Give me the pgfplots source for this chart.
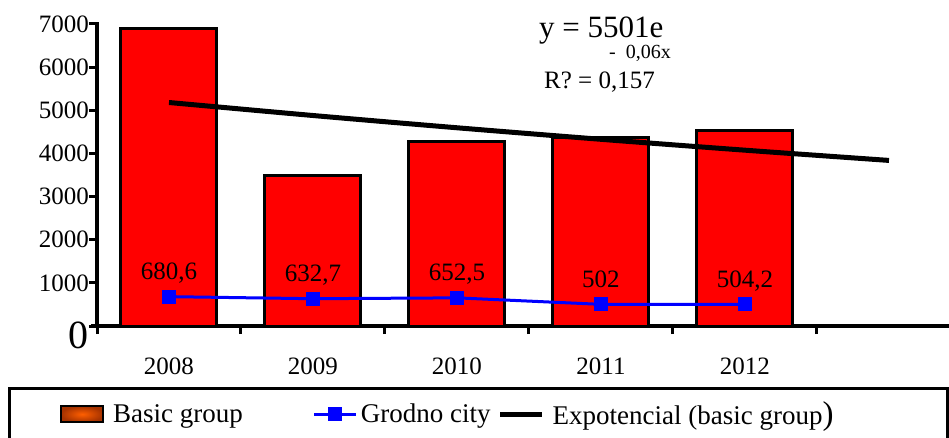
\documentclass[border=0pt]{standalone}
\usepackage{fontspec}
\setmainfont{Liberation Serif}
\usepackage{pgfplots}
\pgfplotsset{compat=1.18}
\definecolor{barred}{RGB}{255,0,0}
\definecolor{lineblue}{RGB}{0,0,255}
\pgfplotsset{
  barlegimg/.style={legend image code/.code={\draw[line width=2pt, black, inner color={rgb,255:red,255;green,95;blue,0}, outer color={rgb,255:red,165;green,50;blue,0}] (0pt,-8pt) rectangle (42pt,8pt);}},
  linelegimg/.style={legend image code/.code={\draw[mark repeat=2,mark phase=2,##1] plot coordinates {(0pt,0pt) (21pt,0pt) (42pt,0pt)};}},
  trendlegimg/.style={legend image code/.code={\draw[##1] (0pt,0pt) -- (42pt,0pt);}},
}
\begin{document}
\begin{tikzpicture}
\begin{axis}[
  at={(97pt,-326pt)}, anchor=south west,
  scale only axis, width=852pt, height=304pt,
  xmin=-0.5, xmax=5.417, ymin=0, ymax=7046,
  axis x line*=bottom, axis y line*=left,
  axis line style={line width=4pt, -},
  x axis line style={shorten <=-6pt},
  clip=false,
  /pgf/number format/assume math mode=true,
  ticklabel style={font=\fontsize{25}{25}\selectfont},
  tick style={line width=3pt, black},
  tick align=outside,
  major tick length=8pt,
  xtick={-0.5,0.5,1.5,2.5,3.5,4.5},
  xticklabels={,,,,,},
  extra x ticks={0,1,2,3,4},
  extra x tick labels={2008,2009,2010,2011,2012},
  extra x tick style={major tick length=0pt, xticklabel style={anchor=base, yshift=-48pt}},
  ytick={0,1000,2000,3000,4000,5000,6000,7000},
  yticklabels={{\raisebox{-22pt}[0pt][0pt]{\fontsize{40}{40}\selectfont 0}},1000,2000,3000,4000,5000,6000,7000},
  yticklabel style={anchor=east, inner sep=0pt},
  legend style={at={(-0.0434,-0.29)}, anchor=west, draw=none, fill=none,
    inner sep=0pt, legend columns=3, font=\fontsize{27}{27}\selectfont,
    nodes={inner sep=0pt},
    /tikz/column 1/.style={column sep=9pt},
    /tikz/column 2/.style={column sep=70pt},
    /tikz/column 3/.style={column sep=3pt},
    /tikz/column 4/.style={column sep=7pt},
    /tikz/column 5/.style={column sep=8pt}},
]
\addplot[ybar, bar width=96pt, fill=barred, draw=black, line width=3pt, barlegimg]
  coordinates {(0,6900) (1,3480) (2,4265) (3,4358) (4,4520)};
\addlegendentry{Basic group}
\addplot[lineblue, line width=3pt, mark=square*, mark size=5.5pt, mark options={solid},
  nodes near coords, point meta=explicit symbolic,
  nodes near coords style={anchor=base, yshift=17pt, black, font=\fontsize{25}{25}\selectfont, inner sep=0pt},
  linelegimg]
  coordinates {(0,680.6) [{680,6}] (1,632.7) [{632,7}] (2,652.5) [{652,5}] (3,502) [{502}] (4,504.2) [{504,2}]};
\addlegendentry{Grodno city}
\addplot[black, line width=5pt, smooth, no marks, trendlegimg]
  coordinates {(0,5180.6) (1,4878.9) (2,4594.8) (3,4327.2) (4,4075.2) (5,3837.9)};
\addlegendentry{Expotencial (basic group{\fontsize{33}{33}\selectfont )}}
\end{axis}
\node[anchor=base west, inner sep=0pt, font=\fontsize{31}{31}\selectfont] at (539pt,-37pt) {y = 5501e};
\node[anchor=base west, inner sep=0pt, font=\fontsize{20}{20}\selectfont] at (609pt,-58pt) {-\hspace{10pt}0,06x};
\node[anchor=base west, inner sep=0pt, font=\fontsize{25}{25}\selectfont] at (544pt,-88pt) {R? = 0,157};
\draw[line width=3pt] (9pt,-470pt) -- (9pt,-388pt) -- (947pt,-388pt) -- (947pt,-470pt);
\pgfresetboundingbox
\useasboundingbox (0pt,0pt) rectangle (949pt,-437pt);
\end{tikzpicture}
\end{document}
